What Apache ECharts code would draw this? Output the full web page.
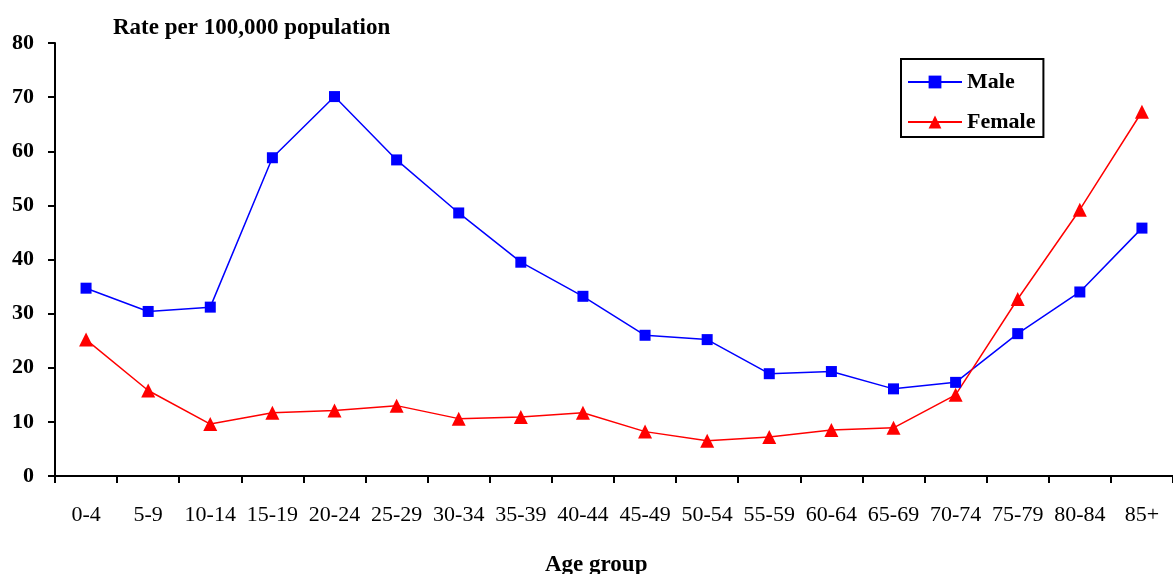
<!DOCTYPE html>
<html><head><meta charset="utf-8">
<script src="https://cdn.jsdelivr.net/npm/echarts@6/dist/echarts.min.js"></script>
<style>html,body{margin:0;padding:0;background:#fff}#c{width:1173px;height:574px}</style>
</head><body><div id="c"></div>
<script>
const categories = ['0-4','5-9','10-14','15-19','20-24','25-29','30-34','35-39','40-44','45-49','50-54','55-59','60-64','65-69','70-74','75-79','80-84','85+'];
const male = [34.7,30.4,31.2,58.8,70.1,58.4,48.6,39.5,33.2,26.0,25.2,18.9,19.3,16.1,17.3,26.3,34.0,45.8];
const female = [25.2,15.8,9.6,11.7,12.1,13.0,10.6,10.9,11.7,8.2,6.5,7.2,8.5,8.9,15.0,32.7,49.2,67.3];
const yTicks = [0,10,20,30,40,50,60,70,80];
const font = '"Liberation Serif","Times New Roman",serif';
const chart = echarts.init(document.getElementById('c'));
chart.setOption({
  animation:false,
  backgroundColor:'#fff',
  title:[
    {text:'Rate per 100,000 population',left:108,top:12,textStyle:{fontFamily:font,fontWeight:'bold',fontSize:23,color:'#000'}},
    {text:'Age group',left:540,top:549,textStyle:{fontFamily:font,fontWeight:'bold',fontSize:23,color:'#000'}}
  ],
  legend:{
    orient:'vertical',left:901,top:59,width:144,
    padding:[12,8,4,6],itemGap:18,itemWidth:54,itemHeight:16,
    borderColor:'#000',borderWidth:2,
    textStyle:{fontFamily:font,fontWeight:'bold',fontSize:22,color:'#000'},
    data:['Male','Female']
  },
  grid:{left:55,right:-10,top:43,bottom:98,containLabel:false},
  xAxis:{
    type:'category',data:categories,boundaryGap:true,
    axisLine:{lineStyle:{color:'#000',width:2}},
    axisTick:{show:true,length:7,lineStyle:{color:'#000',width:2}},
    axisLabel:{fontFamily:font,fontSize:22,color:'#000',margin:28,interval:0}
  },
  yAxis:{
    type:'value',min:yTicks[0],max:yTicks[yTicks.length-1],interval:10,
    splitLine:{show:false},
    axisLine:{show:true,lineStyle:{color:'#000',width:2}},
    axisTick:{show:true,length:7,lineStyle:{color:'#000',width:2}},
    axisLabel:{fontFamily:font,fontWeight:'bold',fontSize:22,color:'#000',margin:21}
  },
  series:[
    {name:'Male',type:'line',data:male,color:'#0000ff',symbol:'rect',symbolSize:11,
     lineStyle:{width:1.5,color:'#0000ff'},itemStyle:{color:'#0000ff'}},
    {name:'Female',type:'line',data:female,color:'#ff0000',symbol:'triangle',symbolSize:14,
     lineStyle:{width:1.5,color:'#ff0000'},itemStyle:{color:'#ff0000'}}
  ]
});
</script></body></html>
